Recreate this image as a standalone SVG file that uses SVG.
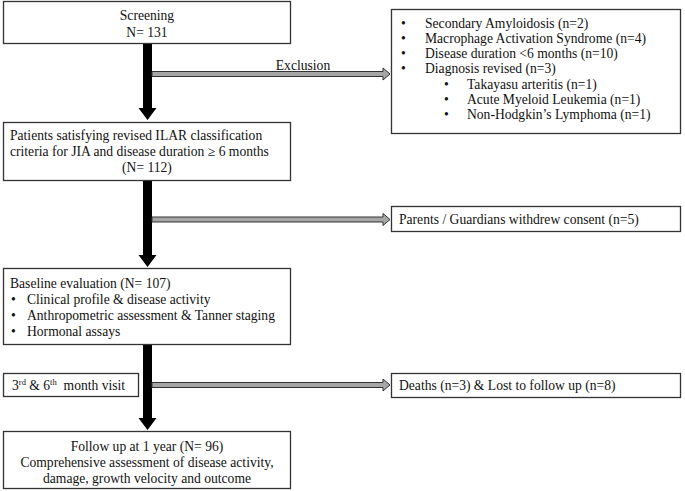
<svg xmlns="http://www.w3.org/2000/svg" width="685" height="491" viewBox="0 0 685 491">
<style>
  .box { fill: #ffffff; stroke: #333333; stroke-width: 1.3; }
  .t { font-family: "Liberation Serif", "Times New Roman", serif; font-size: 13.6px; fill: #111111; }
  .c { text-anchor: middle; }
  .black { fill: #000000; }
  .hollow { fill: #a6a6a6; stroke: #333333; stroke-width: 1; }
</style>
<rect width="685" height="491" fill="#ffffff"/>

<g id="connectors">
  <!-- black downward arrows -->
  <path class="black" d="M143,43 H152 V108 H156.5 L147.5,120 L138.5,108 H143 Z"/>
  <path class="black" d="M143,180 H152 V255 H156.5 L147.5,267 L138.5,255 H143 Z"/>
  <path class="black" d="M143,344 H152 V418 H156.5 L147.5,430 L138.5,418 H143 Z"/>
  <!-- hollow exclusion arrows -->
  <path class="hollow" d="M152,71.5 H383 V68 L390,74 L383,80 V76.5 H152 Z"/>
  <text class="t c" x="303" y="70">Exclusion</text>
  <path class="hollow" d="M152,217 H383 V213.5 L390,219.5 L383,225.5 V222 H152 Z"/>
  <path class="hollow" d="M152,382.5 H383 V379 L390,385 L383,391 V387.5 H152 Z"/>
</g>

<g id="screening">
  <rect class="box" x="3.5" y="1.5" width="287" height="42"/>
  <text class="t c" x="147" y="20">Screening</text>
  <text class="t c" x="147" y="37">N= 131</text>
</g>

<g id="exclusion-reasons">
  <rect class="box" x="391.5" y="9.5" width="289" height="124"/>
  <g class="t">
    <text x="401" y="28">•</text><text x="425" y="28">Secondary Amyloidosis (n=2)</text>
    <text x="401" y="43">•</text><text x="425" y="43">Macrophage Activation Syndrome (n=4)</text>
    <text x="401" y="58">•</text><text x="425" y="58">Disease duration &lt;6 months (n=10)</text>
    <text x="401" y="73">•</text><text x="425" y="73">Diagnosis revised (n=3)</text>
    <text x="444" y="89">•</text><text x="467" y="89">Takayasu arteritis (n=1)</text>
    <text x="444" y="104">•</text><text x="467" y="104">Acute Myeloid Leukemia (n=1)</text>
    <text x="444" y="119">•</text><text x="467" y="119">Non-Hodgkin’s Lymphoma (n=1)</text>
  </g>
</g>

<g id="eligible">
  <rect class="box" x="3.5" y="122.5" width="287" height="58"/>
  <text class="t" x="10" y="140">Patients satisfying revised ILAR classification</text>
  <text class="t" x="10" y="156">criteria for JIA and disease duration ≥ 6 months</text>
  <text class="t c" x="147" y="172">(N= 112)</text>
</g>

<g id="withdrew">
  <rect class="box" x="391.5" y="206.5" width="289" height="25"/>
  <text class="t" x="399" y="224">Parents / Guardians withdrew consent (n=5)</text>
</g>

<g id="baseline">
  <rect class="box" x="3.5" y="268.5" width="287" height="76"/>
  <text class="t" x="10" y="288">Baseline evaluation (N= 107)</text>
  <text class="t" x="11" y="304">•</text><text class="t" x="27" y="304">Clinical profile &amp; disease activity</text>
  <text class="t" x="11" y="320">•</text><text class="t" x="27" y="320">Anthropometric assessment &amp; Tanner staging</text>
  <text class="t" x="11" y="336">•</text><text class="t" x="27" y="336">Hormonal assays</text>
</g>

<g id="visit">
  <rect class="box" x="3.5" y="373.5" width="135" height="23"/>
  <text class="t" x="12" y="390">3<tspan font-size="8.5px" dy="-5">rd</tspan><tspan dy="5"> &amp; 6</tspan><tspan font-size="8.5px" dy="-5">th</tspan><tspan dy="5" dx="3.5"> month visit</tspan></text>
</g>

<g id="lost">
  <rect class="box" x="391.5" y="373.5" width="289" height="24"/>
  <text class="t" x="399" y="390">Deaths (n=3) &amp; Lost to follow up (n=8)</text>
</g>

<g id="followup">
  <rect class="box" x="3.5" y="431.5" width="287" height="57"/>
  <text class="t c" x="147" y="451">Follow up at 1 year (N= 96)</text>
  <text class="t c" x="147" y="467">Comprehensive assessment of disease activity,</text>
  <text class="t c" x="147" y="483">damage, growth velocity and outcome</text>
</g>
</svg>
